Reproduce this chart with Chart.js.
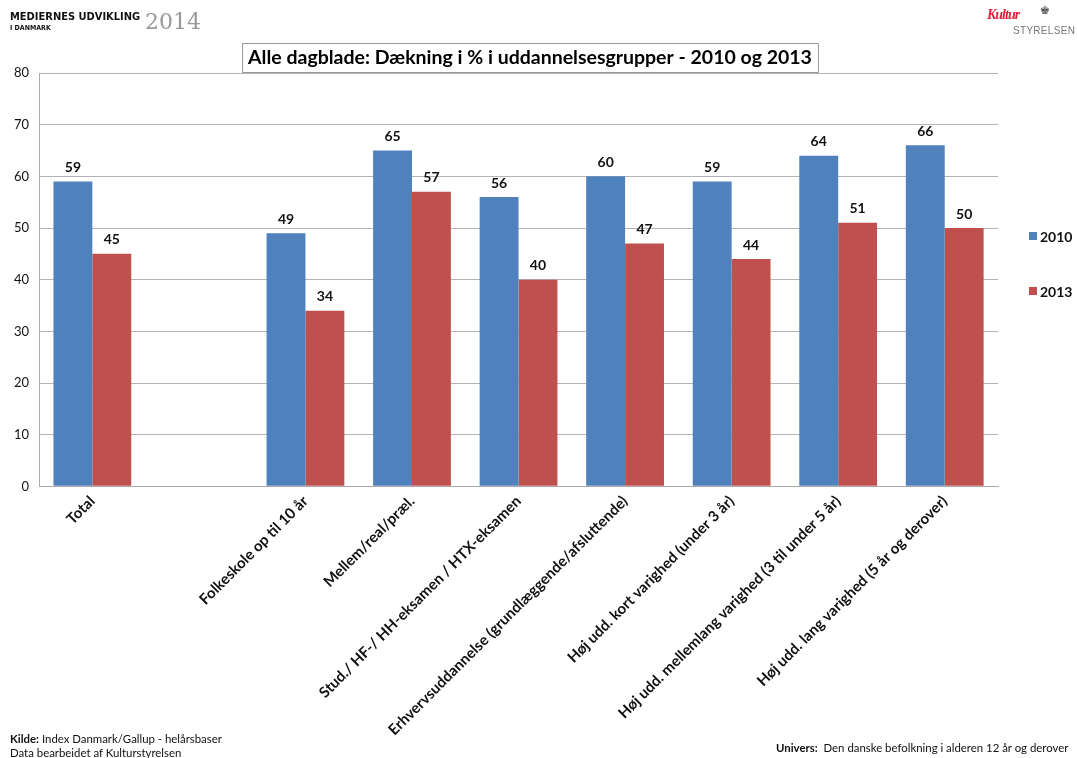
<!DOCTYPE html>
<html>
<head>
<meta charset="utf-8">
<script src="https://cdn.jsdelivr.net/npm/chart.js@4"></script>
<style>
  body { margin: 0; background: #fff; font-family: Lato, "Open Sans", sans-serif; }
  #wrap { position: relative; width: 1077px; height: 758px; }
  #chart { position: absolute; left: 0; top: 0; }
  .hdr1 { position: absolute; left: 10px; top: 10px; font: bold 11px "DejaVu Sans Condensed", "DejaVu Sans", sans-serif; color: #111; }
  .hdr2 { position: absolute; left: 10px; top: 24px; font: bold 7px "DejaVu Sans Condensed", "DejaVu Sans", sans-serif; color: #111; }
  .year { position: absolute; left: 145px; top: 9px; font: 22px "DejaVu Serif", "Liberation Serif", serif; color: #999; }
  .logo1 { position: absolute; left: 987px; top: 7px; font: italic 700 14px "Liberation Serif", serif; color: #e0203a; letter-spacing: -1px; }
  .crown { position: absolute; left: 1040px; top: 4px; font: 11px "DejaVu Sans"; color: #444; }
  .logo2 { position: absolute; left: 1013px; top: 25px; font: 10px "Liberation Sans", sans-serif; color: #777; letter-spacing: 0.3px; }
  .foot { position: absolute; font-size: 11.4px; color: #111; }
</style>
</head>
<body>
<div id="wrap">
  <canvas id="chart" width="1077" height="758"></canvas>
  <div class="hdr1">MEDIERNES UDVIKLING</div>
  <div class="hdr2">I DANMARK</div>
  <div class="year">2014</div>
  <div class="logo1">Kultur</div>
  <div class="crown">♚</div>
  <div class="logo2">STYRELSEN</div>
  <div class="foot" style="left:10px; top:732px;"><b>Kilde:</b> Index Danmark/Gallup - helårsbaser</div>
  <div class="foot" style="left:10px; top:746px;">Data bearbeidet af Kulturstyrelsen</div>
  <div class="foot" style="left:776px; top:741px;"><b>Univers:</b>&nbsp; Den danske befolkning i alderen 12 år og derover</div>
</div>
<script>
const groups = [
  'Total',
  '',
  'Folkeskole op til 10 år',
  'Mellem/real/præl.',
  'Stud./ HF-/ HH-eksamen / HTX-eksamen',
  'Erhvervsuddannelse (grundlæggende/afsluttende)',
  'Høj udd. kort varighed (under 3 år)',
  'Høj udd. mellemlang varighed (3 til under 5 år)',
  'Høj udd. lang varighed (5 år og derover)'
];
const years = ['2010', '2013'];
const values2010 = [59, null, 49, 65, 56, 60, 59, 64, 66];
const values2013 = [45, null, 34, 57, 40, 47, 44, 51, 50];
const titleText = 'Alle dagblade: Dækning i % i uddannelsesgrupper - 2010 og 2013';

const blue = '#4f81bd';
const red = '#c0504d';

// value labels above each bar
const barLabels = {
  id: 'barLabels',
  afterDatasetsDraw(chart) {
    const ctx = chart.ctx;
    ctx.save();
    ctx.font = 'bold 14px Lato, sans-serif';
    ctx.fillStyle = '#111';
    ctx.textAlign = 'center';
    ctx.textBaseline = 'bottom';
    chart.data.datasets.forEach((ds, i) => {
      chart.getDatasetMeta(i).data.forEach((bar, j) => {
        if (ds.data[j] == null) return;
        ctx.fillText(ds.data[j], bar.x, bar.y - 7);
      });
    });
    ctx.restore();
  }
};

// boxed title and legend on the right side
const decorations = {
  id: 'decorations',
  afterDraw(chart) {
    const ctx = chart.ctx;
    ctx.save();
    ctx.font = 'bold 19.5px Lato, sans-serif';
    const w = ctx.measureText(titleText).width;
    const cx = 530;
    ctx.fillStyle = '#fff';
    ctx.fillRect(cx - w / 2 - 6, 43, w + 12, 29);
    ctx.strokeStyle = '#999';
    ctx.lineWidth = 1;
    ctx.strokeRect(cx - w / 2 - 6 + 0.5, 43.5, w + 12, 29);
    ctx.fillStyle = '#000';
    ctx.textAlign = 'center';
    ctx.textBaseline = 'middle';
    ctx.fillText(titleText, cx, 58);

    ctx.font = 'bold 14px Lato, sans-serif';
    ctx.textAlign = 'left';
    const legendY = [236, 291];
    chart.data.datasets.forEach((ds, i) => {
      ctx.fillStyle = ds.backgroundColor;
      ctx.fillRect(1029, legendY[i] - 4, 8, 8);
      ctx.fillStyle = '#111';
      ctx.fillText(ds.label, 1040, legendY[i] + 1);
    });
    ctx.restore();
  }
};

new Chart(document.getElementById('chart').getContext('2d'), {
  type: 'bar',
  data: {
    labels: groups,
    datasets: [
      { label: years[0], data: values2010, backgroundColor: blue },
      { label: years[1], data: values2013, backgroundColor: red }
    ]
  },
  options: {
    responsive: false,
    animation: false,
    layout: { padding: { top: 73, right: 79, left: 4, bottom: 13 } },
    datasets: { bar: { barPercentage: 1, categoryPercentage: 0.73 } },
    plugins: {
      legend: { display: false },
      title: { display: false },
      tooltip: { enabled: false }
    },
    scales: {
      x: {
        grid: { display: false, drawTicks: false },
        border: { color: '#aaa' },
        ticks: {
          autoSkip: false,
          minRotation: 45,
          maxRotation: 45,
          padding: 6,
          color: '#111',
          font: { family: 'Lato', size: 15, weight: 'bold' }
        }
      },
      y: {
        min: 0,
        max: 80,
        grid: { color: '#b4b4b4', drawTicks: false },
        border: { color: '#aaa' },
        ticks: {
          stepSize: 10,
          padding: 10,
          color: '#111',
          font: { family: 'Lato', size: 13 }
        }
      }
    }
  },
  plugins: [barLabels, decorations]
});
</script>
</body>
</html>
